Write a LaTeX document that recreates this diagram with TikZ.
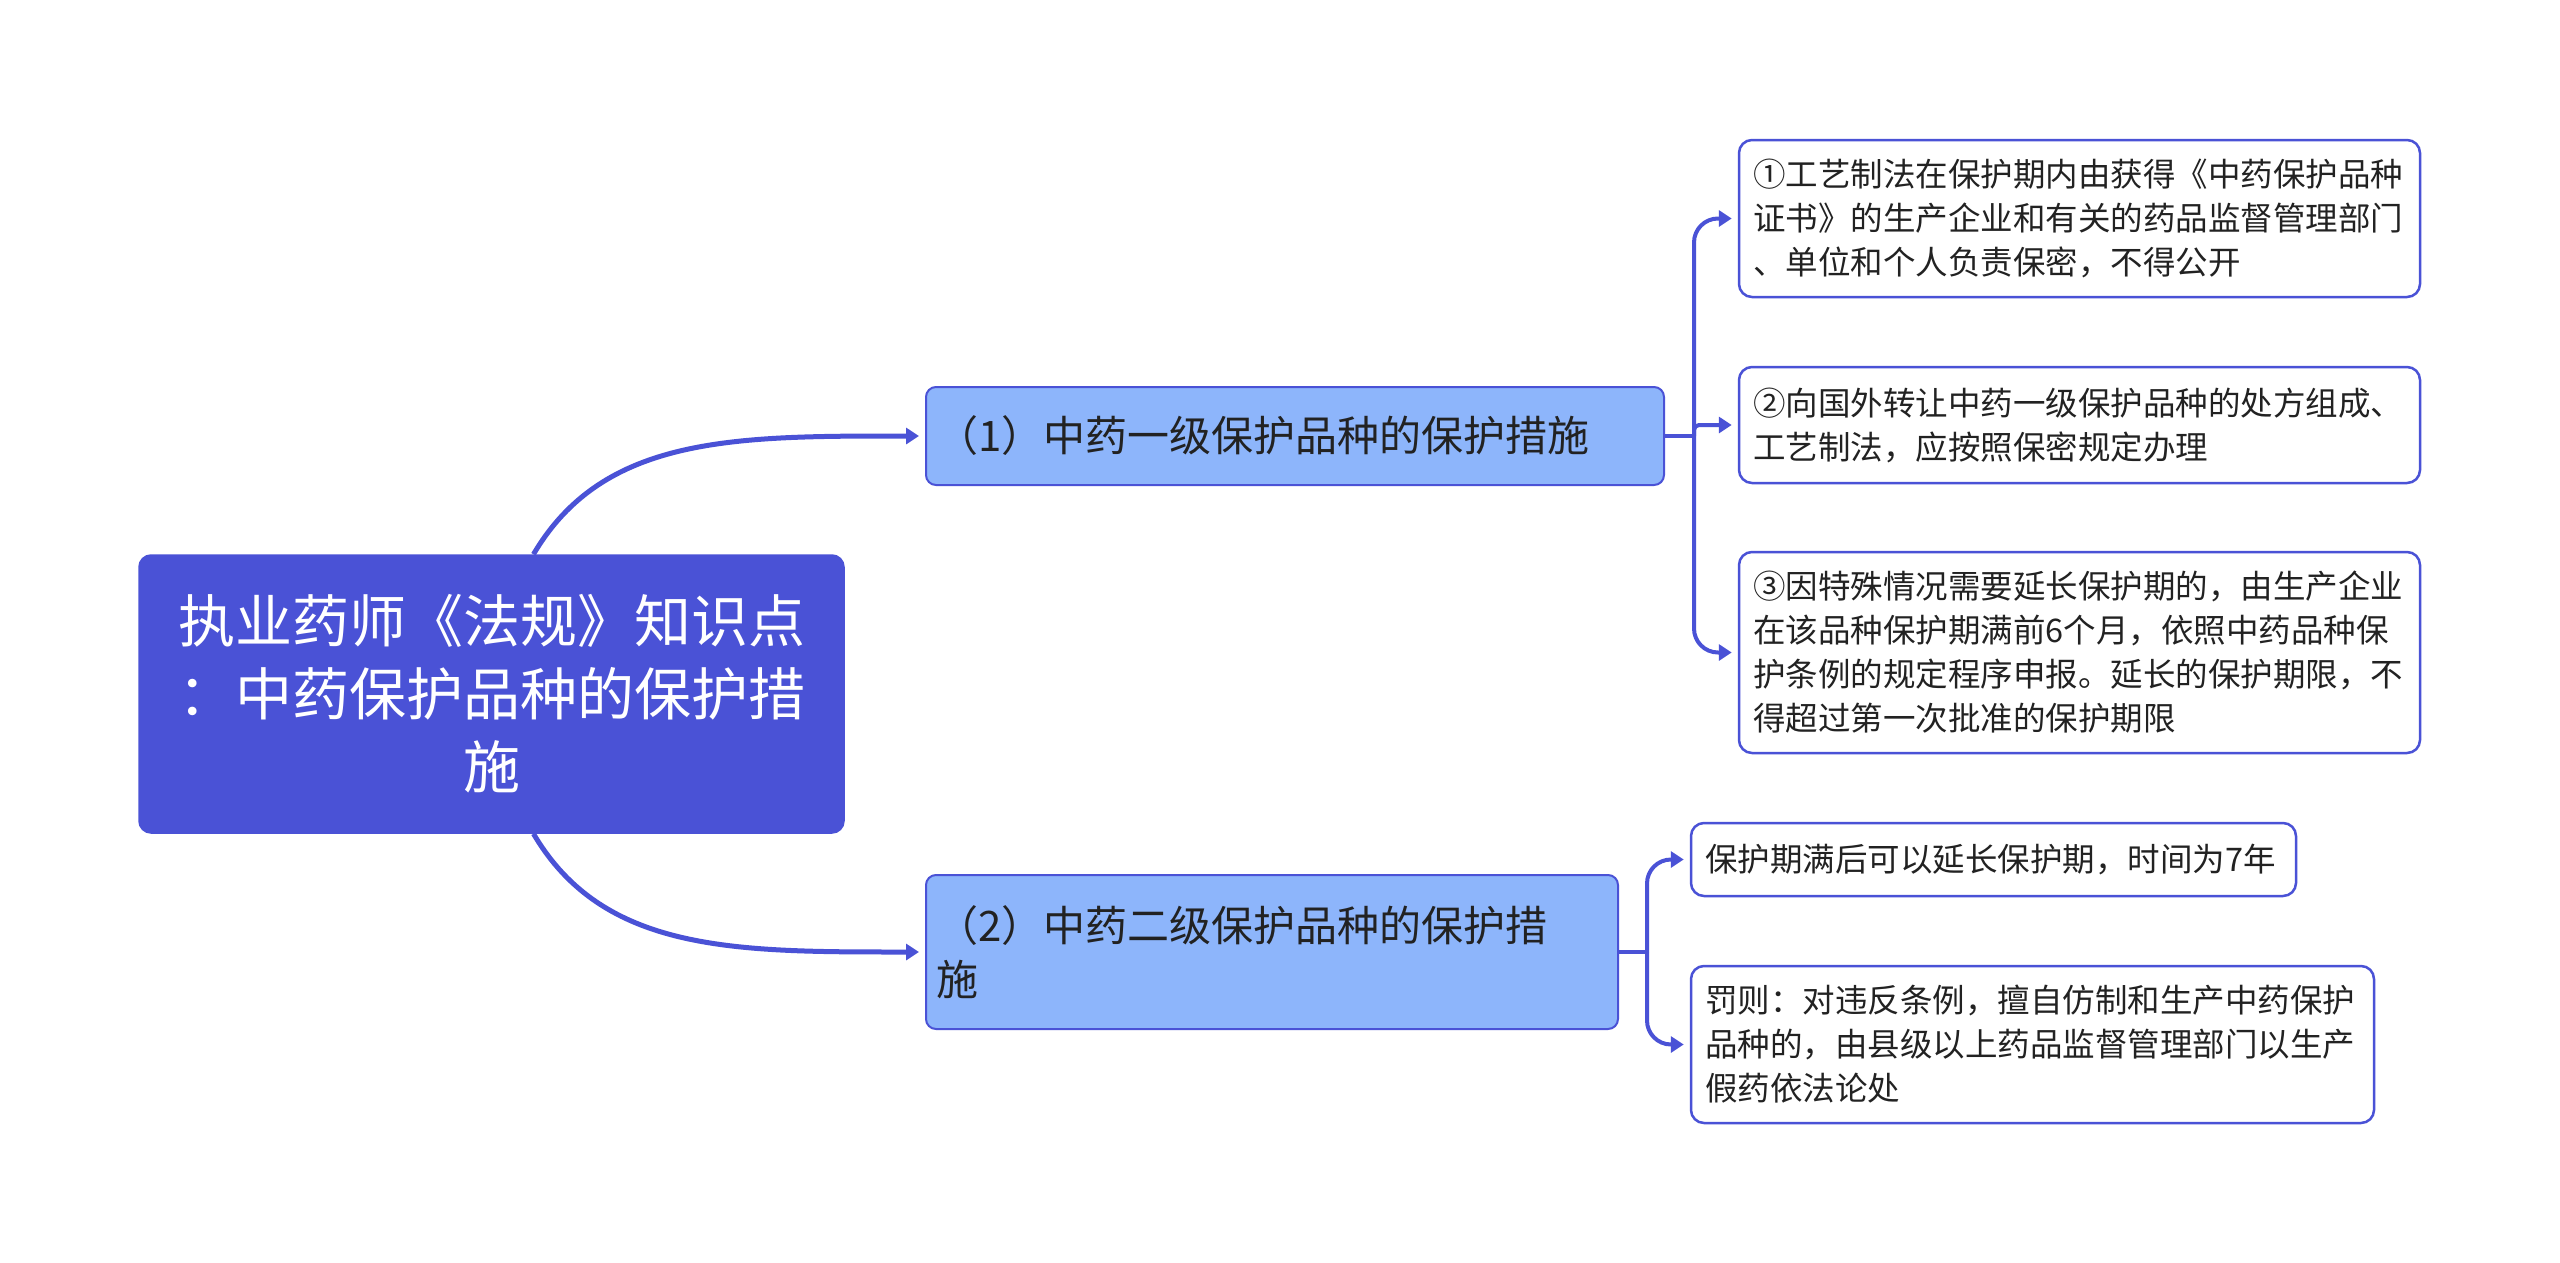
\documentclass[tikz,border=0pt]{standalone}
\usepackage{fontspec}
\setmainfont{Noto Sans CJK SC}
\usetikzlibrary{arrows.meta}
\definecolor{mainblue}{HTML}{4A52D6}
\definecolor{lightblue}{HTML}{8DB5FB}
\definecolor{txt}{HTML}{222222}
\begin{document}
\begin{tikzpicture}[x=1pt,y=-1pt,
  rootbox/.style={draw=mainblue, fill=mainblue, rounded corners=12pt, line width=1.5pt,
    inner xsep=0pt, inner ysep=0pt, text width=660pt, align=center, text=white,
    font=\fontsize{57}{73}\selectfont},
  midbox/.style={draw=mainblue, fill=lightblue, rounded corners=10pt, line width=2pt,
    inner xsep=10pt, inner ysep=0pt, align=left, text=txt,
    font=\fontsize{42}{54}\selectfont},
  leafbox/.style={draw=mainblue, fill=white, rounded corners=13pt, line width=2.5pt,
    inner xsep=14pt, inner ysep=0pt, align=left, text=txt,
    font=\fontsize{32.5}{44}\selectfont},
  link/.style={draw=mainblue, line width=4pt},
  conn/.style={link, -{Triangle[length=13pt,width=16pt]}, shorten >=6pt},
  rootconn/.style={conn, line width=5pt},
]
\useasboundingbox (0,0) rectangle (2560,1263);
\fill[white] (0,0) rectangle (2560,1263);

% root
\node[rootbox, minimum width=705pt, minimum height=278pt] (root) at (491.5,694)
  {执业药师《法规》知识点\\：中药保护品种的保护措\\施};

% middle nodes
\node[midbox, text width=718pt, minimum height=98pt] (n1) at (1295,436)
  {（1）中药一级保护品种的保护措施};
\node[midbox, text width=672pt, minimum height=154pt] (n2) at (1272,952)
  {（2）中药二级保护品种的保护措\\施};

% leaves
\node[leafbox, text width=653pt, minimum height=157pt] (l1) at (2079.5,218.5)
  {①工艺制法在保护期内由获得《中药保护品种\\证书》的生产企业和有关的药品监督管理部门\\、单位和个人负责保密，不得公开};
\node[leafbox, text width=653pt, minimum height=116pt] (l2) at (2079.5,425)
  {②向国外转让中药一级保护品种的处方组成、\\工艺制法，应按照保密规定办理};
\node[leafbox, text width=653pt, minimum height=201pt] (l3) at (2079.5,652.5)
  {③因特殊情况需要延长保护期的，由生产企业\\在该品种保护期满前6个月，依照中药品种保\\护条例的规定程序申报。延长的保护期限，不\\得超过第一次批准的保护期限};
\node[leafbox, text width=577pt, minimum height=73pt] (l4) at (1993.5,859.5)
  {保护期满后可以延长保护期，时间为7年};
\node[leafbox, text width=655pt, minimum height=157pt] (l5) at (2032.5,1044.5)
  {罚则：对违反条例，擅自仿制和生产中药保护\\品种的，由县级以上药品监督管理部门以生产\\假药依法论处};

% root connectors
\draw[rootconn] ([xshift=42pt]root.north) .. controls +(70,-119) and +(-190,0) .. (n1.west);
\draw[rootconn] ([xshift=42pt]root.south) .. controls +(70,119) and +(-190,0) .. (n2.west);

% group 1
\coordinate (j1) at ([xshift=29pt]n1.east);
\draw[link] (n1.east) -- (j1);
\draw[conn, rounded corners=24pt] (j1) |- (l1.west);
\draw[conn, rounded corners=5pt] (j1) |- (l2.west);
\draw[conn, rounded corners=24pt] (j1) |- (l3.west);

% group 2
\coordinate (j2) at ([xshift=28pt]n2.east);
\draw[link] (n2.east) -- (j2);
\draw[conn, rounded corners=24pt] (j2) |- (l4.west);
\draw[conn, rounded corners=24pt] (j2) |- (l5.west);
\end{tikzpicture}
\end{document}
